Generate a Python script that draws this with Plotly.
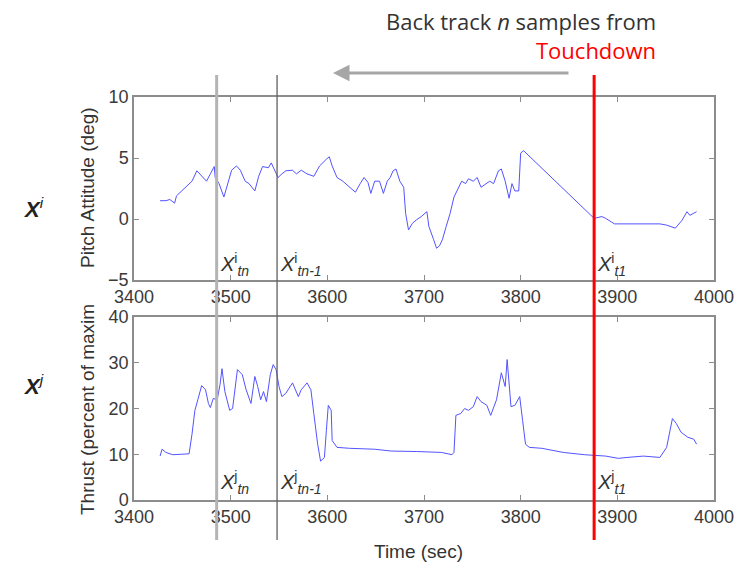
import plotly.graph_objects as go

# Pitch attitude (deg) vs time (sec)
pitch_t = [3427, 3433, 3437, 3440, 3442, 3444, 3453, 3460, 3465, 3470, 3475, 3479, 3483, 3484, 3488,
           3493, 3497, 3501, 3506, 3510, 3515, 3519, 3525, 3529, 3533, 3539, 3542, 3545, 3549, 3553,
           3557, 3564, 3568, 3573, 3579, 3586, 3592, 3599, 3602, 3605, 3610, 3616, 3623, 3629, 3634,
           3638, 3642, 3645, 3649, 3654, 3658, 3662, 3665, 3668, 3671, 3675, 3679, 3681, 3684, 3688,
           3692, 3697, 3703, 3705, 3710, 3713, 3716, 3719, 3723, 3727, 3731, 3736, 3739, 3743, 3746,
           3751, 3755, 3759, 3764, 3768, 3772, 3777, 3780, 3784, 3788, 3791, 3794, 3798, 3800, 3803,
           3876, 3884, 3888, 3897, 3910, 3944, 3951, 3960, 3967, 3972, 3975, 3982]
pitch_v = [1.5, 1.5, 1.6, 1.4, 1.3, 1.9, 2.6, 3.1, 3.95, 3.5, 3.1, 3.7, 4.3, 3.4, 2.9,
           1.8, 2.9, 4.0, 4.35, 4.0, 3.1, 2.9, 2.3, 3.5, 4.3, 4.2, 4.6, 4.1, 3.4, 3.7,
           3.95, 4.0, 3.7, 4.0, 3.7, 3.5, 4.35, 4.9, 5.1, 4.35, 3.4, 3.1, 2.6, 2.2, 2.9,
           3.4, 3.0, 2.1, 3.1, 3.1, 2.1, 3.1, 3.4, 3.95, 4.1, 3.1, 2.6, 0.46, -0.9, -0.35,
           -0.08, 0.19, 0.6, -0.6, -1.7, -2.4, -2.2, -1.7, -0.6, 0.46, 1.8, 2.6, 3.1, 2.9, 3.3,
           3.1, 3.4, 2.6, 2.9, 3.1, 2.9, 3.95, 4.1, 3.1, 1.7, 2.9, 2.3, 2.3, 5.4, 5.6,
           0.05, 0.2, 0.05, -0.4, -0.4, -0.4, -0.5, -0.75, -0.1, 0.6, 0.3, 0.6]

# Thrust (percent of maximum) vs time (sec)
thrust_t = [3427, 3429, 3433, 3440, 3449, 3457, 3460, 3463, 3466, 3470, 3474, 3477, 3479, 3482, 3486,
            3489, 3491, 3494, 3499, 3502, 3507, 3512, 3516, 3521, 3525, 3528, 3531, 3534, 3537, 3541,
            3544, 3547, 3550, 3553, 3557, 3564, 3570, 3573, 3579, 3583, 3586, 3590, 3593, 3597, 3599,
            3601, 3604, 3605, 3610, 3623, 3649, 3666, 3692, 3718, 3729, 3731, 3733, 3738, 3742, 3746,
            3751, 3755, 3759, 3765, 3769, 3775, 3780, 3784, 3786, 3788, 3790, 3794, 3799, 3802, 3805,
            3809, 3822, 3844, 3866, 3888, 3901, 3910, 3927, 3944, 3951, 3957, 3961, 3966, 3973, 3979,
            3982]
thrust_v = [9.6, 11.1, 10.4, 9.9, 10.0, 10.1, 14.4, 19.6, 21.9, 25.0, 24.1, 21.1, 20.2, 22.2, 21.9,
            25.2, 28.7, 23.7, 19.6, 20.0, 28.5, 27.4, 24.1, 21.1, 27.0, 24.8, 21.9, 23.7, 21.5, 27.4,
            29.6, 28.5, 24.8, 22.6, 23.3, 25.6, 22.6, 24.1, 25.6, 24.1, 18.9, 12.2, 8.5, 9.3, 15.2,
            20.7, 19.6, 13.0, 11.5, 11.3, 11.1, 10.7, 10.6, 10.4, 9.9, 10.4, 18.5, 18.9, 20.0, 19.6,
            20.4, 22.6, 21.5, 20.7, 18.5, 21.9, 27.8, 24.8, 30.7, 25.6, 20.4, 20.7, 22.6, 17.4, 12.2,
            11.5, 11.3, 10.4, 9.9, 9.6, 9.1, 9.3, 9.6, 9.3, 11.5, 17.8, 16.7, 14.8, 13.7, 13.3,
            12.2]

# Marker times (sec)
t_tn = 3485.5
t_tn1 = 3548
t_touchdown = 3876

x_ticks = [3400, 3500, 3600, 3700, 3800, 3900, 4000]

W, H = 739, 571
L, R, T, B = 134, 25, 97, 71
PW, PH = W - L - R, H - T - B


def px(xp):
    return (xp - L) / PW


def py(yp):
    return 1 - (yp - T) / PH


blue = "#5353ff"
axis_color = "#8c8c8c"
tick_font = dict(family="Liberation Sans, Arial, sans-serif", size=18, color="#3a3a3a")

fig = go.Figure()
fig.add_trace(go.Scatter(x=pitch_t, y=pitch_v, mode="lines", line=dict(color=blue, width=1),
                         xaxis="x", yaxis="y", showlegend=False))
fig.add_trace(go.Scatter(x=thrust_t, y=thrust_v, mode="lines", line=dict(color=blue, width=1),
                         xaxis="x2", yaxis="y2", showlegend=False))

ax_common = dict(showline=True, linecolor=axis_color, linewidth=1.5, mirror="ticks",
                 ticks="inside", ticklen=5, tickcolor=axis_color, tickwidth=1,
                 showgrid=False, zeroline=False, tickfont=tick_font, automargin=False)

top_dom = [py(280), 1]
bot_dom = [0, py(317)]

fig.update_layout(
    width=W, height=H, autosize=False,
    margin=dict(l=L, r=R, t=T, b=B, autoexpand=False),
    paper_bgcolor="white", plot_bgcolor="white",
    xaxis=dict(range=[3400, 4000], tickvals=x_ticks, anchor="y", domain=[0, 1], **ax_common),
    yaxis=dict(range=[-5, 10], dtick=5, domain=top_dom, anchor="x", **ax_common),
    xaxis2=dict(range=[3400, 4000], tickvals=x_ticks, anchor="y2", domain=[0, 1], **ax_common),
    yaxis2=dict(range=[0, 40], dtick=10, domain=bot_dom, anchor="x2", **ax_common),
)

# Vertical marker lines spanning both panels
line_top = py(75)
line_bot = py(540)
fig.add_shape(type="line", xref="x", yref="paper", x0=t_tn, x1=t_tn, y0=line_bot, y1=line_top,
              line=dict(color="#b4b4b4", width=3))
fig.add_shape(type="line", xref="x", yref="paper", x0=t_tn1, x1=t_tn1, y0=line_bot, y1=line_top,
              line=dict(color="#606060", width=1.3))
fig.add_shape(type="line", xref="x", yref="paper", x0=t_touchdown, x1=t_touchdown, y0=line_bot, y1=line_top,
              line=dict(color="#ff0000", width=3))

lab_font = dict(family="Liberation Sans, Arial, sans-serif", size=19, color="#333333")
C = dict(xref="paper", yref="paper", xanchor="center", yanchor="middle", showarrow=False)
ann = []
# Axis titles
ann.append(dict(text="Pitch Attitude (deg)", x=px(87), y=py(188), textangle=-90, font=lab_font, **C))
ann.append(dict(text="Thrust (percent of maxim", x=px(87), y=py(410), textangle=-90, font=lab_font, **C))
ann.append(dict(text="Time (sec)", x=px(418), y=py(551), font=lab_font, **C))

# Row labels
big = dict(family="Liberation Sans, Arial, sans-serif", size=22, color="#222222")
ann.append(dict(text="<b><i>X</i></b><sup><i>i</i></sup>", x=px(33), y=py(208), font=big, **C))
ann.append(dict(text="<b><i>X</i></b><sup><i>j</i></sup>", x=px(33), y=py(385), font=big, **C))

# In-panel sample labels
sm = dict(family="Liberation Sans, Arial, sans-serif", size=20, color="#333333")
for sup, ycen in (("i", 264), ("j", 482)):
    for xt, sub in ((t_tn, "tn"), (t_tn1, "tn-1"), (t_touchdown, "t1")):
        ann.append(dict(text=f"<i>X</i><sup>{sup}</sup><sub><i>{sub}</i></sub>", x=xt, y=py(ycen),
                        xref="x", yref="paper", xanchor="left", yanchor="middle", xshift=1,
                        showarrow=False, font=sm))

# Header text and arrow
hdr = dict(family="Open Sans, Lato, sans-serif", size=22, color="#333333")
ann.append(dict(text="Back track <i>n</i> samples from", x=px(658), y=py(21), xref="paper", yref="paper",
                xanchor="right", yanchor="middle", showarrow=False, font=hdr))
ann.append(dict(text="Touchdown", x=px(658), y=py(50), xref="paper", yref="paper",
                xanchor="right", yanchor="middle", showarrow=False, font=dict(hdr, color="#ff0000")))
ann.append(dict(text="", x=px(333), y=py(73), xref="paper", yref="paper",
                ax=237, ay=0, axref="pixel", ayref="pixel", showarrow=True,
                arrowhead=2, arrowsize=1.1, arrowwidth=3, arrowcolor="#a6a6a6"))

fig.update_layout(annotations=ann)

fig.write_html("out.html")
